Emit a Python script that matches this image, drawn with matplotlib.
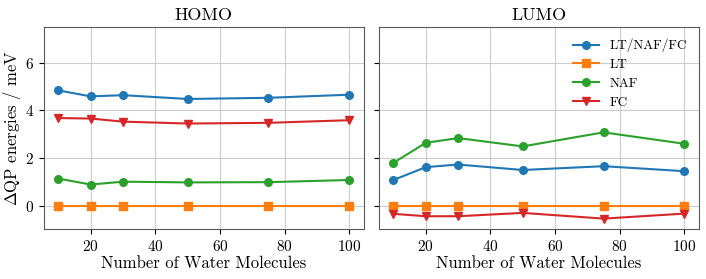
import numpy as np
import matplotlib
matplotlib.use('Agg')
import matplotlib.pyplot as plt

plt.rcParams['font.family'] = 'serif'
plt.rcParams['font.serif'] = ['cmr10', 'DejaVu Serif']
plt.rcParams['mathtext.fontset'] = 'cm'
plt.rcParams['axes.formatter.use_mathtext'] = True
plt.rcParams['font.size'] = 12
plt.rcParams['axes.edgecolor'] = '0.35'

# data
nwater = [10, 20, 30, 50, 75, 100]
labels = ['LT/NAF/FC', 'LT', 'NAF', 'FC']
markers = ['o', 's', 'o', 'v']
colors = ['#1f77b4', '#ff7f0e', '#2ca02c', '#d62728']

homo_all = [4.83, 4.58, 4.63, 4.47, 4.52, 4.65]
homo_lt = [0, 0, 0, 0, 0, 0]
homo_naf = [1.13, 0.88, 1.00, 0.97, 0.98, 1.07]
homo_fc = [3.67, 3.65, 3.52, 3.44, 3.47, 3.58]

lumo_all = [1.07, 1.61, 1.72, 1.49, 1.65, 1.44]
lumo_lt = [0, 0, 0, 0, 0, 0]
lumo_naf = [1.79, 2.63, 2.83, 2.48, 3.07, 2.59]
lumo_fc = [-0.35, -0.45, -0.45, -0.31, -0.55, -0.34]

fig, (ax1, ax2) = plt.subplots(1, 2, sharey=True, figsize=(7.06, 2.79), dpi=100)

for ax, series, title in [(ax1, [homo_all, homo_lt, homo_naf, homo_fc], 'HOMO'),
                          (ax2, [lumo_all, lumo_lt, lumo_naf, lumo_fc], 'LUMO')]:
    for y, lab, m, c in zip(series, labels, markers, colors):
        ax.plot(nwater, y, marker=m, color=c, label=lab, markersize=5.5)
    ax.set_title(title, fontsize=13, pad=5)
    ax.set_xlabel('Number of Water Molecules', fontsize=12, labelpad=1)
    ax.grid(True, color='0.8')
    ax.set_xticks([20, 40, 60, 80, 100])
    ax.tick_params(labelsize=11)

ax1.set_ylim(-1, 7.5)
ax1.set_yticks([0, 2, 4, 6])
ax1.set_ylabel(r'$\Delta$QP energies / meV', fontsize=12, labelpad=1)
ax2.tick_params(labelleft=False)
ax2.legend(loc='upper right', frameon=False, fontsize=9.5)

plt.subplots_adjust(left=0.062, right=0.990, top=0.904, bottom=0.178, wspace=0.047)
plt.savefig('out.png', dpi=100)
